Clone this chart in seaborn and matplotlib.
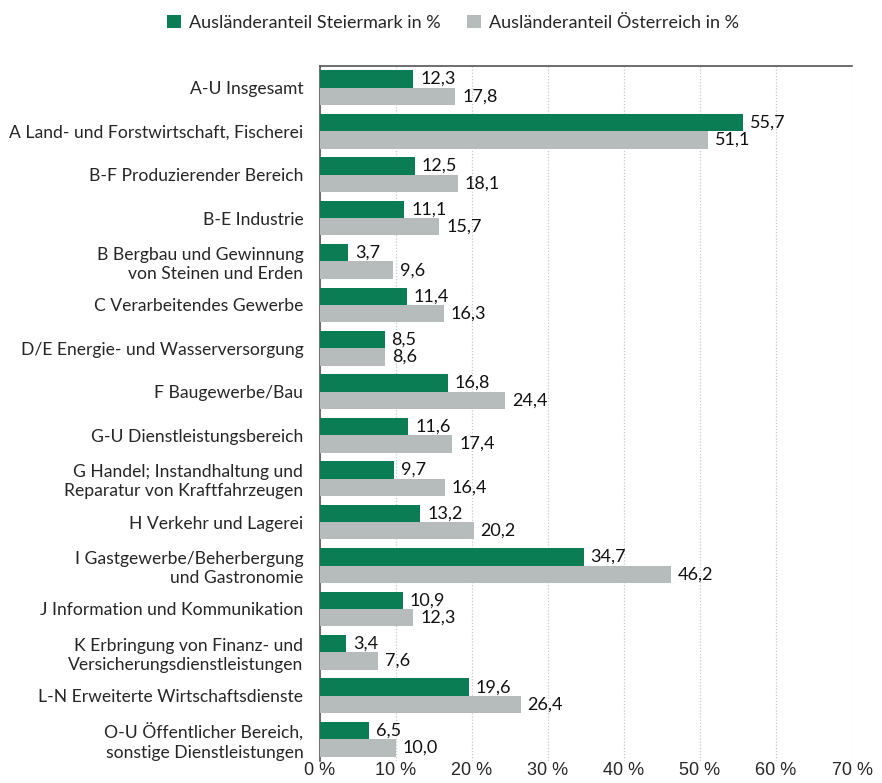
import matplotlib
matplotlib.use("Agg")
import matplotlib.pyplot as plt
import seaborn as sns
import pandas as pd
import numpy as np
from matplotlib.ticker import FixedLocator

categories = [
    "A-U Insgesamt",
    "A Land- und Forstwirtschaft, Fischerei",
    "B-F Produzierender Bereich",
    "B-E Industrie",
    "B Bergbau und Gewinnung\nvon Steinen und Erden",
    "C Verarbeitendes Gewerbe",
    "D/E Energie- und Wasserversorgung",
    "F Baugewerbe/Bau",
    "G-U Dienstleistungsbereich",
    "G Handel; Instandhaltung und\nReparatur von Kraftfahrzeugen",
    "H Verkehr und Lagerei",
    "I Gastgewerbe/Beherbergung\nund Gastronomie",
    "J Information und Kommunikation",
    "K Erbringung von Finanz- und\nVersicherungsdienstleistungen",
    "L-N Erweiterte Wirtschaftsdienste",
    "O-U Öffentlicher Bereich,\nsonstige Dienstleistungen",
]
steiermark = [12.3, 55.7, 12.5, 11.1, 3.7, 11.4, 8.5, 16.8, 11.6, 9.7, 13.2, 34.7, 10.9, 3.4, 19.6, 6.5]
oesterreich = [17.8, 51.1, 18.1, 15.7, 9.6, 16.3, 8.6, 24.4, 17.4, 16.4, 20.2, 46.2, 12.3, 7.6, 26.4, 10.0]
series_names = ["Ausländeranteil Steiermark in %", "Ausländeranteil Österreich in %"]
x_ticks = [0, 10, 20, 30, 40, 50, 60, 70]
x_ticklabels = ["0 %", "10 %", "20 %", "30 %", "40 %", "50 %", "60 %", "70 %"]

df = pd.DataFrame({
    "Kategorie": categories * 2,
    "Wert": steiermark + oesterreich,
    "Serie": [series_names[0]] * len(categories) + [series_names[1]] * len(categories),
})

sns.set_style("white")
plt.rcParams["font.family"] = ["Lato", "DejaVu Sans"]

fig = plt.figure(figsize=(8.82, 7.83), dpi=100)
ax = fig.add_axes([0.3628, 0.0281, 0.966 - 0.3628, 0.9157 - 0.0281])

palette = ["#0b7d55", "#b6bcbb"]
sns.barplot(data=df, x="Wert", y="Kategorie", hue="Serie", orient="h",
            palette=palette, width=0.8, linewidth=0, saturation=1, ax=ax, zorder=3)

for container in ax.containers:
    labels = [f"{v:.1f}".replace(".", ",") for v in container.datavalues]
    ax.bar_label(container, labels=labels, padding=5, fontsize=13, color="#111111")

ax.set_xlim(0, 70)
ax.set_ylim(15.5, -0.5)
ax.set_xticks(x_ticks)
ax.set_xticklabels(x_ticklabels, fontsize=13, family=["Liberation Sans", "DejaVu Sans"])
ax.tick_params(axis="x", length=0, pad=1)
ax.tick_params(axis="y", which="major", length=0, labelsize=12.6, pad=12)
ax.yaxis.set_minor_locator(FixedLocator(np.arange(-0.5, 16, 1)))
ax.tick_params(axis="y", which="minor", length=5, width=1, color="#555555", direction="out")
for lbl in ax.get_yticklabels():
    lbl.set_horizontalalignment("right")
    lbl.set_multialignment("right")
ax.set_xlabel("")
ax.set_ylabel("")

ax.xaxis.grid(True, linestyle=(0, (1, 1.5)), color="#c8c8c8", linewidth=0.9, zorder=0)
ax.set_axisbelow(True)
for s in ["right", "bottom"]:
    ax.spines[s].set_visible(False)
for s in ["left", "top"]:
    ax.spines[s].set_color("#555555")
    ax.spines[s].set_linewidth(1.2)

leg = ax.legend(loc="lower center", bbox_to_anchor=(0.25, 1.04), ncol=2, frameon=False,
                fontsize=13, handlelength=0.75, handleheight=0.75, columnspacing=1.5,
                handletextpad=0.45, borderaxespad=0)

fig.savefig("out.png", dpi=100)
